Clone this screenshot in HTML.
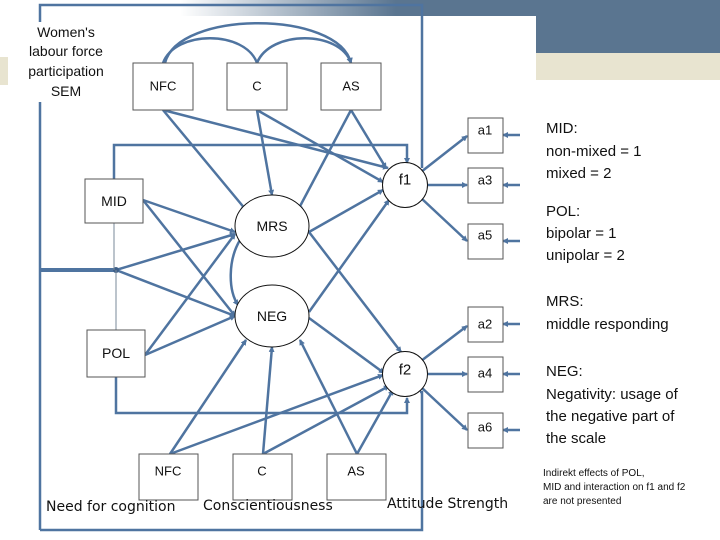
<!DOCTYPE html>
<html><head><meta charset="utf-8"><style>
html,body{margin:0;padding:0;background:#fff}
body{width:720px;height:540px;position:relative;overflow:hidden;font-family:"Liberation Sans",sans-serif}
svg{position:absolute;left:0;top:0}
</style></head><body>
<svg width="720" height="540" viewBox="0 0 720 540">
<defs>
<linearGradient id="g" x1="0" x2="1" y1="0" y2="0">
<stop offset="0" stop-color="#5a7590" stop-opacity="0"/>
<stop offset="0.6" stop-color="#5a7590" stop-opacity="1"/>
<stop offset="1" stop-color="#5a7590"/>
</linearGradient>
<marker id="a" markerWidth="6" markerHeight="6" refX="5" refY="3" orient="auto" markerUnits="userSpaceOnUse"><path d="M0,0L6,3L0,6z" fill="#4f74a0"/></marker>
</defs>
<rect x="180" y="0" width="360" height="16" fill="url(#g)"/>
<rect x="536" y="0" width="184" height="53" fill="#5a7590"/>
<rect x="536" y="53" width="184" height="27" fill="#e8e4d0"/>
<rect x="0" y="57" width="8" height="28" fill="#e8e4d0"/>
<rect x="422" y="16" width="114" height="70" fill="#fff"/>
<g stroke="#4f74a0" stroke-width="2.5" fill="none">
<polyline points="40,530 40,5 422,5 422,168"/>
<polyline points="420,392 422,392 422,530 40,530"/>
<line x1="40" y1="270" x2="116" y2="270" stroke-width="4"/>
<polyline points="114,179 114,145 407,145 407,163" marker-end="url(#a)"/>
<polyline points="116,377 116,413 407,413 407,398" marker-end="url(#a)"/>
<path d="M165,63 C178,10 338,10 351,63" marker-end="url(#a)"/>
<path d="M163,63 C175,30 245,30 257,63" marker-start="url(#a)"/>
<path d="M257,63 C270,30 340,30 351,63" marker-end="url(#a)"/>
<g marker-end="url(#a)">
<line x1="163" y1="110" x2="246" y2="210"/>
<line x1="163" y1="110" x2="388" y2="168"/>
<line x1="257" y1="110" x2="272" y2="195"/>
<line x1="257" y1="110" x2="383" y2="182"/>
<line x1="351" y1="110" x2="298" y2="210"/>
<line x1="351" y1="110" x2="386" y2="168"/>
<line x1="143" y1="200" x2="235" y2="232"/>
<line x1="143" y1="200" x2="235" y2="316"/>
<line x1="145" y1="355" x2="235" y2="316"/>
<line x1="145" y1="355" x2="235" y2="234"/>
<line x1="116" y1="270" x2="235" y2="316"/>
<line x1="116" y1="270" x2="235" y2="234"/>
<line x1="309" y1="232" x2="383" y2="190"/>
<line x1="309" y1="232" x2="401" y2="352"/>
<line x1="309" y1="312" x2="389" y2="200"/>
<line x1="309" y1="318" x2="384" y2="373"/>
<line x1="170" y1="454" x2="246" y2="340"/>
<line x1="170" y1="454" x2="383" y2="375"/>
<line x1="263" y1="454" x2="272" y2="347"/>
<line x1="263" y1="454" x2="389" y2="386"/>
<line x1="357" y1="454" x2="300" y2="340"/>
<line x1="357" y1="454" x2="393" y2="390"/>
<line x1="421" y1="172" x2="467" y2="136"/>
<line x1="428" y1="185" x2="467" y2="185"/>
<line x1="421" y1="198" x2="467" y2="241"/>
<line x1="421" y1="361" x2="467" y2="326"/>
<line x1="428" y1="374" x2="467" y2="374"/>
<line x1="421" y1="387" x2="467" y2="430"/>
<line x1="520" y1="135" x2="503" y2="135"/>
<line x1="520" y1="185" x2="503" y2="185"/>
<line x1="520" y1="241" x2="503" y2="241"/>
<line x1="520" y1="324" x2="503" y2="324"/>
<line x1="520" y1="374" x2="503" y2="374"/>
<line x1="520" y1="430" x2="503" y2="430"/>
</g>
<path d="M240,240 C228,260 228,290 238,305" marker-start="url(#a)" marker-end="url(#a)"/>
</g>
<circle cx="116" cy="270" r="3" fill="#3e5f88"/>
<g stroke="#7a8a99" stroke-width="1" fill="none">
<line x1="114" y1="223" x2="114" y2="270"/>
<line x1="116" y1="270" x2="116" y2="330"/>
</g>
<rect x="18" y="22" width="96" height="80" fill="#fff"/>
<g fill="#fff" stroke="#555" stroke-width="1">
<rect x="133" y="63" width="60" height="47"/><rect x="227" y="63" width="60" height="47"/><rect x="321" y="63" width="60" height="47"/>
<rect x="85" y="179" width="58" height="44"/><rect x="87" y="330" width="58" height="47"/>
<rect x="139" y="454" width="59" height="46"/><rect x="233" y="454" width="59" height="46"/><rect x="327" y="454" width="59" height="46"/>
<rect x="468" y="118" width="35" height="35"/><rect x="468" y="168" width="35" height="35"/><rect x="468" y="224" width="35" height="35"/>
<rect x="468" y="307" width="35" height="35"/><rect x="468" y="357" width="35" height="35"/><rect x="468" y="413" width="35" height="35"/>
<ellipse cx="272" cy="226" rx="37" ry="31" stroke="#111"/>
<ellipse cx="272" cy="316" rx="37" ry="31" stroke="#111"/>
<circle cx="405" cy="185" r="22.5" stroke="#111"/>
<circle cx="405" cy="374" r="22.5" stroke="#111"/>
</g>
<g font-size="14" fill="#111" text-anchor="middle" dominant-baseline="central">
<text x="163" y="86" font-size="13">NFC</text><text x="257" y="86" font-size="13">C</text><text x="351" y="86" font-size="13">AS</text>
<text x="114" y="201">MID</text><text x="116" y="353">POL</text>
<text x="272" y="226">MRS</text><text x="272" y="316">NEG</text>
<text x="405" y="180" font-size="15">f1</text><text x="405" y="370" font-size="15">f2</text>
<text x="168" y="471" font-size="13">NFC</text><text x="262" y="471" font-size="13">C</text><text x="356" y="471" font-size="13">AS</text>
<text x="485" y="130" font-size="13">a1</text><text x="485" y="180" font-size="13">a3</text><text x="485" y="235" font-size="13">a5</text>
<text x="485" y="324" font-size="13">a2</text><text x="485" y="373" font-size="13">a4</text><text x="485" y="427" font-size="13">a6</text>
<text x="66" y="32" font-size="14">Women's</text><text x="66" y="51" font-size="14">labour force</text>
<text x="66" y="71" font-size="14">participation</text><text x="66" y="91" font-size="14">SEM</text>
</g>
<g font-size="14" fill="#111" font-family="DejaVu Sans, sans-serif">
<text x="46" y="511">Need for cognition</text>
<text x="203" y="510">Conscientiousness</text>
<text x="387" y="508">Attitude Strength</text>
</g>
<g font-size="15" fill="#111">
<text x="546" y="133">MID:</text><text x="546" y="156">non-mixed = 1</text><text x="546" y="178">mixed = 2</text>
<text x="546" y="216">POL:</text><text x="546" y="238">bipolar = 1</text><text x="546" y="260">unipolar  = 2</text>
<text x="546" y="306">MRS:</text><text x="546" y="329">middle responding</text>
<text x="546" y="376">NEG:</text><text x="546" y="399">Negativity: usage of</text>
<text x="546" y="421">the negative part of</text><text x="546" y="443">the scale</text>
</g>
<g font-size="10" fill="#111">
<text x="543" y="476">Indirekt effects of POL,</text>
<text x="543" y="490">MID and interaction on f1 and f2</text>
<text x="543" y="504">are not presented</text>
</g>
</svg>
</body></html>
